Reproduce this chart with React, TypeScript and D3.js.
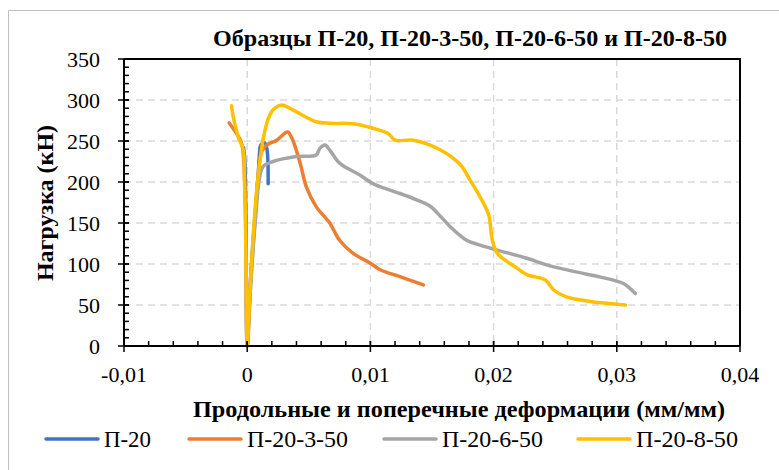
import React, { useEffect, useRef } from 'react';
import * as d3 from 'd3';

type Pt = [number, number];

// strain (mm/mm), load (kN)
const p20: Pt[] = [
  [-0.0003, 242], [-0.0002, 228], [-0.0001, 150], [0, 0], [0.0003, 90], [0.0007, 170],
  [0.0009, 210], [0.001, 235], [0.0011, 245], [0.0014, 248], [0.0016, 240], [0.0017, 198],
];

const p20_3_50: Pt[] = [
  [-0.00146, 272], [-0.00086, 259], [-0.00045, 247], [-0.0002, 200], [-0.0001, 120], [0, 0],
  [0.0003, 80], [0.0006, 150], [0.0009, 210], [0.00117, 237], [0.00158, 245], [0.0024, 251],
  [0.0031, 260], [0.0033, 261], [0.0037, 251], [0.0043, 223], [0.0048, 194], [0.0056, 170],
  [0.0067, 150], [0.0075, 129], [0.0086, 113], [0.01, 101], [0.0108, 93], [0.0124, 84.5],
  [0.0143, 74.5],
];

const p20_6_50: Pt[] = [
  [0, 0], [0.0003, 80], [0.0007, 160], [0.001, 205], [0.0013, 219], [0.0021, 225],
  [0.004, 231], [0.0056, 233], [0.0059, 241], [0.0063, 245], [0.0067, 239], [0.0075, 223],
  [0.0092, 208], [0.0102, 198], [0.0116, 190], [0.0124, 186], [0.0138, 178], [0.0148, 171],
  [0.0157, 158], [0.0165, 145], [0.0178, 129], [0.0189, 123], [0.0203, 117], [0.0227, 107],
  [0.0243, 99], [0.0265, 91], [0.0287, 84], [0.0305, 76.5], [0.0309, 72.4], [0.0315, 64],
];

const p20_8_50: Pt[] = [
  [-0.00127, 293], [-0.00114, 280], [-0.00073, 255], [-0.00032, 239], [-0.00022, 200],
  [-0.00014, 150], [-0.00006, 56], [0, 0], [0.00022, 68], [0.00046, 129], [0.0007, 178],
  [0.00095, 215], [0.00128, 251], [0.00168, 276], [0.0021, 288], [0.0028, 294], [0.0037, 288],
  [0.0056, 273.5], [0.0067, 271.6], [0.0086, 271], [0.0102, 265.5], [0.01145, 259], [0.012, 251],
  [0.0135, 251], [0.0157, 239], [0.0173, 221], [0.0181, 202], [0.0189, 182], [0.0196, 160],
  [0.0199, 129], [0.0203, 113], [0.0211, 103], [0.0219, 95], [0.0227, 87], [0.0242, 80.5],
  [0.0249, 68], [0.0259, 60], [0.0276, 55], [0.0292, 52], [0.0307, 50],
];

const seriesNames = ['П-20', 'П-20-3-50', 'П-20-6-50', 'П-20-8-50'];
const seriesData = [p20, p20_3_50, p20_6_50, p20_8_50];
const colors = ['#4472C4', '#ED7D31', '#A5A5A5', '#FFC000'];

const xTicks = [-0.01, 0, 0.01, 0.02, 0.03, 0.04];
const yTicks = [0, 50, 100, 150, 200, 250, 300, 350];

const title = 'Образцы П-20, П-20-3-50, П-20-6-50 и П-20-8-50';
const xTitle = 'Продольные и поперечные деформации (мм/мм)';
const yTitle = 'Нагрузка (кН)';

const W = 779;
const H = 470;
const FONT = '"Liberation Serif", "Times New Roman", serif';

const App = () => {
  const ref = useRef<SVGSVGElement | null>(null);

  useEffect(() => {
    const svg = d3.select(ref.current);
    svg.selectAll('*').remove();

    const left = 124, right = 740, top = 59, bottom = 346;
    const x = d3.scaleLinear().domain([-0.01, 0.04]).range([left, right]);
    const y = d3.scaleLinear().domain([0, 350]).range([bottom, top]);

    // outer border (only top and left are inside the picture)
    svg.append('path')
      .attr('d', `M8.5,${H}V10.5H${W}`)
      .attr('fill', 'none').attr('stroke', '#bfbfbf').attr('stroke-width', 1);

    // grid
    const grid = svg.append('g').attr('stroke', '#d9d9d9').attr('stroke-width', 1.5)
      .attr('stroke-dasharray', '7,5');
    grid.selectAll('.hg').data(yTicks.filter((d) => d > 0 && d < 350)).enter().append('line')
      .attr('x1', left).attr('x2', right)
      .attr('y1', (d) => y(d)).attr('y2', (d) => y(d));
    grid.selectAll('.vg').data(xTicks.filter((d) => d > -0.01 && d < 0.04)).enter().append('line')
      .attr('y1', top).attr('y2', bottom)
      .attr('x1', (d) => x(d)).attr('x2', (d) => x(d));

    // top / right frame
    svg.append('path')
      .attr('d', `M${left},${top}H${right}V${bottom}`)
      .attr('fill', 'none').attr('stroke', 'black').attr('stroke-width', 2);

    // series
    const line = d3.line<Pt>()
      .x((d) => x(d[0]))
      .y((d) => y(d[1]))
      .curve(d3.curveCatmullRom.alpha(0.5));
    seriesData.forEach((data, i) => {
      svg.append('path')
        .datum(data)
        .attr('d', line)
        .attr('fill', 'none')
        .attr('stroke', colors[i])
        .attr('stroke-width', 3.5)
        .attr('stroke-linejoin', 'round')
        .attr('stroke-linecap', 'round');
    });

    // axes
    const ax = svg.append('g').attr('stroke', 'black');
    ax.append('line').attr('x1', left).attr('x2', right).attr('y1', bottom).attr('y2', bottom).attr('stroke-width', 2);
    ax.append('line').attr('x1', left).attr('x2', left).attr('y1', top).attr('y2', bottom).attr('stroke-width', 2);

    const xMinor = d3.range(-0.01, 0.0401, 0.002);
    ax.selectAll('.xm').data(xMinor).enter().append('line')
      .attr('x1', (d) => x(d)).attr('x2', (d) => x(d))
      .attr('y1', bottom).attr('y2', bottom - 5).attr('stroke-width', 1.5);
    ax.selectAll('.xM').data(xTicks).enter().append('line')
      .attr('x1', (d) => x(d)).attr('x2', (d) => x(d))
      .attr('y1', bottom + 6).attr('y2', bottom - 5).attr('stroke-width', 1.5);

    const yMinor = d3.range(0, 351, 10);
    ax.selectAll('.ym').data(yMinor).enter().append('line')
      .attr('y1', (d) => y(d)).attr('y2', (d) => y(d))
      .attr('x1', left).attr('x2', left + 5).attr('stroke-width', 1.5);
    ax.selectAll('.yM').data(yTicks).enter().append('line')
      .attr('y1', (d) => y(d)).attr('y2', (d) => y(d))
      .attr('x1', left - 6).attr('x2', left + 5).attr('stroke-width', 1.5);

    const fmtX = (v: number) => (Math.abs(v) < 1e-9 ? '0' : v.toFixed(2).replace('.', ','));

    svg.selectAll('.xl').data(xTicks).enter().append('text')
      .attr('x', (d) => x(d)).attr('y', bottom + 36)
      .attr('text-anchor', 'middle')
      .style('font-family', FONT).style('font-size', '22px')
      .text((d) => fmtX(d));

    svg.selectAll('.yl').data(yTicks).enter().append('text')
      .attr('x', left - 24).attr('y', (d) => y(d) + 7.5)
      .attr('text-anchor', 'end')
      .style('font-family', FONT).style('font-size', '22px')
      .text((d) => String(d));

    // titles
    svg.append('text')
      .attr('x', 213).attr('y', 46)
      .attr('textLength', 514).attr('lengthAdjust', 'spacingAndGlyphs')
      .style('font-family', FONT).style('font-size', '24px').style('font-weight', 'bold')
      .text(title);

    svg.append('text')
      .attr('x', 193).attr('y', 417)
      .attr('textLength', 532).attr('lengthAdjust', 'spacingAndGlyphs')
      .style('font-family', FONT).style('font-size', '24px').style('font-weight', 'bold')
      .text(xTitle);

    svg.append('text')
      .attr('transform', 'translate(53,203) rotate(-90)')
      .attr('text-anchor', 'middle')
      .style('font-family', FONT).style('font-size', '24px').style('font-weight', 'bold')
      .text(yTitle);

    // legend
    const legendX = [46, 189, 384, 578];
    const legendW = [47, 101, 101, 102];
    const lg = svg.append('g');
    seriesNames.forEach((name, i) => {
      lg.append('line')
        .attr('x1', legendX[i]).attr('x2', legendX[i] + 52)
        .attr('y1', 439).attr('y2', 439)
        .attr('stroke', colors[i]).attr('stroke-width', 3.5).attr('stroke-linecap', 'round');
      lg.append('text')
        .attr('x', legendX[i] + 58).attr('y', 447)
        .attr('textLength', legendW[i]).attr('lengthAdjust', 'spacingAndGlyphs')
        .style('font-family', FONT).style('font-size', '23px')
        .text(name);
    });
  }, []);

  return (
    <svg
      ref={ref}
      width={W}
      height={H}
      style={{ position: 'absolute', left: 0, top: 0, background: 'white' }}
    />
  );
};

export default App;
